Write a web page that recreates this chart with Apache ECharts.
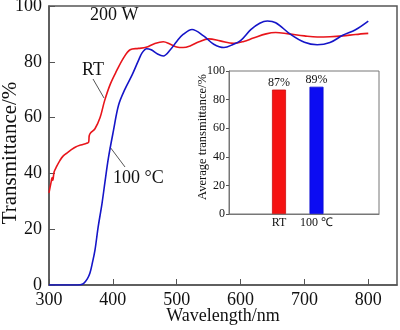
<!DOCTYPE html>
<html>
<head>
<meta charset="utf-8">
<script src="https://cdn.jsdelivr.net/npm/echarts@6/dist/echarts.min.js"></script>
<style>
html,body{margin:0;padding:0;background:#fff}
#chart{width:400px;height:330px}
</style>
</head>
<body>
<div id="chart"></div>
<script>
// Transmittance spectra of films deposited at 200 W
const wavelengthRT = [300,303,305,306,308,312,317,322,328,335,341,350,359,362,363,365,372,380,387,396,406,417,427,440,452,465,479,490,500,510,521,535,550,568,589,605,620,640,655,673,700,720,740,760,780,800];
const transRT      = [33,36.5,38.5,37.5,40.5,42.5,44.6,46.2,47.3,48.5,49.4,50.2,50.8,51.2,53.5,54.5,56,60,66,72,76.8,81.5,84.3,84.8,85.2,86.5,87.2,86.3,85.3,85.1,85.7,87.2,88.2,87.5,86.6,87.3,88.5,90,90.5,90.1,89.3,88.9,89,89.3,89.8,90.2];

const wavelength100 = [300,320,340,349,354,360,364,368,372,377,383,388,393,401,409,419,430,440,446,453,460,470,479,490,500,510,524,542,558,574,589,600,616,630,642,655,678,700,720,740,760,780,800];
const trans100      = [0,0,0,0.1,0.5,2.2,4.2,8,12.5,20.8,29.2,37.5,45.5,55.4,64.5,70.2,75.2,80.4,83.3,84.7,84.3,82.8,82.1,84.3,87.3,89.8,91.6,89.3,86.3,85.1,86.3,87.6,91.5,93.8,94.6,94,89.9,87,86.1,86.9,89.5,91.5,94.6];

// Average transmittance (inset)
const avgCategories = ['RT', '100 ℃'];
const avgValues = [87, 89];

const xTickLabels = [300, 400, 500, 600, 700, 800];
const yTickLabels = [0, 20, 40, 60, 80, 100];

const FONT = 'Liberation Serif';
const RED = '#e8151b';
const BLUE = '#1515c8';
const BAR_COLORS = ['#f51212', '#0c0cf2'];

// inset bars sit on a 0..6 value axis
const barPos = i => 2 + 1.5 * i;

const zip = (xs, ys) => xs.map((x, i) => [x, ys[i]]);

const chart = echarts.init(document.getElementById('chart'), null, {renderer: 'canvas'});

chart.setOption({
  backgroundColor: '#fff',
  animation: false,
  textStyle: {fontFamily: FONT},
  grid: [
    {left: 49, top: 6, right: 3, bottom: 45, show: true, borderColor: '#555', borderWidth: 1.5,
      containLabel: false, outerBoundsMode: 'none'},
    {left: 229, top: 71, width: 150, height: 143, show: true, borderColor: '#777', borderWidth: 1,
      containLabel: false, outerBoundsMode: 'none'}
  ],
  xAxis: [
    {
      gridIndex: 0, type: 'value', min: 300, max: 845, interval: 100,
      name: 'Wavelength/nm', nameLocation: 'middle', nameGap: 22, nameMoveOverlap: false,
      nameTextStyle: {fontFamily: FONT, fontSize: 18, color: '#111'},
      axisLine: {lineStyle: {color: '#555', width: 1.5}},
      axisTick: {inside: true, length: 6, lineStyle: {color: '#555', width: 1}},
      axisLabel: {fontFamily: FONT, fontSize: 18, color: '#111', margin: 6,
        showMaxLabel: false,
        formatter: v => xTickLabels.includes(v) ? String(v) : ''},
      splitLine: {show: false}
    },
    {
      gridIndex: 1, type: 'value', min: 0, max: 6, interval: 0.5,
      axisLine: {lineStyle: {color: '#777', width: 1}},
      axisTick: {show: false},
      axisLabel: {fontFamily: FONT, fontSize: 12, color: '#111', margin: 3, hideOverlap: false,
        formatter: v => {
          const i = avgCategories.findIndex((c, k) => Math.abs(barPos(k) - v) < 1e-6);
          return i >= 0 ? avgCategories[i] : '';
        }},
      splitLine: {show: false}
    }
  ],
  yAxis: [
    {
      gridIndex: 0, type: 'value', min: 0, max: 100, interval: 20,
      axisLine: {lineStyle: {color: '#555', width: 1.5}},
      axisTick: {inside: true, length: 6, lineStyle: {color: '#555', width: 1}},
      axisLabel: {fontFamily: FONT, fontSize: 18, color: '#111', margin: 7,
        formatter: v => yTickLabels.includes(v) ? String(v) : ''},
      splitLine: {show: false}
    },
    {
      gridIndex: 1, type: 'value', min: 0, max: 100, interval: 20,
      axisLine: {lineStyle: {color: '#777', width: 1}},
      axisTick: {inside: false, length: 3, lineStyle: {color: '#555', width: 1}},
      axisLabel: {fontFamily: FONT, fontSize: 12, color: '#111', margin: 4},
      splitLine: {show: false}
    }
  ],
  series: [
    {
      name: 'RT', type: 'line', xAxisIndex: 0, yAxisIndex: 0,
      data: zip(wavelengthRT, transRT), smooth: 0.35, showSymbol: false,
      lineStyle: {color: RED, width: 1.6}, z: 3
    },
    {
      name: '100 °C', type: 'line', xAxisIndex: 0, yAxisIndex: 0,
      data: zip(wavelength100, trans100), smooth: 0.35, showSymbol: false,
      lineStyle: {color: BLUE, width: 1.6}, z: 4
    },
    {
      name: 'Average', type: 'bar', xAxisIndex: 1, yAxisIndex: 1,
      barWidth: 14,
      data: avgValues.map((v, i) => ({
        value: [barPos(i), v],
        itemStyle: {color: BAR_COLORS[i], borderColor: i === 0 ? '#c81010' : '#0a0ad0', borderWidth: 0.8}
      })),
      label: {
        show: true, position: 'top', distance: 1,
        fontFamily: FONT, fontSize: 12, color: '#111',
        formatter: p => p.value[1] + '%'
      }
    }
  ],
  graphic: [
    // axis titles
    {type: 'text', x: 10, y: 153, rotation: Math.PI / 2,
      style: {text: 'Transmittance/%', font: '21px "Liberation Serif"', fill: '#111',
        align: 'center', verticalAlign: 'middle'}},
    {type: 'text', x: 203, y: 137, rotation: Math.PI / 2,
      style: {text: 'Average transmittance/%', font: '12.5px "Liberation Serif"', fill: '#111',
        align: 'center', verticalAlign: 'middle'}},
    // annotations
    {type: 'text', left: 90, top: 6, style: {text: '200 W', font: '18px "Liberation Serif"', fill: '#111'}},
    {type: 'text', left: 82, top: 61, style: {text: 'RT', font: '18px "Liberation Serif"', fill: '#111'}},
    {type: 'text', left: 113, top: 169, style: {text: '100 °C', font: '18px "Liberation Serif"', fill: '#111'}},
    {type: 'line', shape: {x1: 93, y1: 79, x2: 104, y2: 98}, style: {stroke: '#555', lineWidth: 1}},
    {type: 'line', shape: {x1: 110, y1: 147, x2: 125, y2: 167}, style: {stroke: '#555', lineWidth: 1}}
  ]
});
</script>
</body>
</html>
